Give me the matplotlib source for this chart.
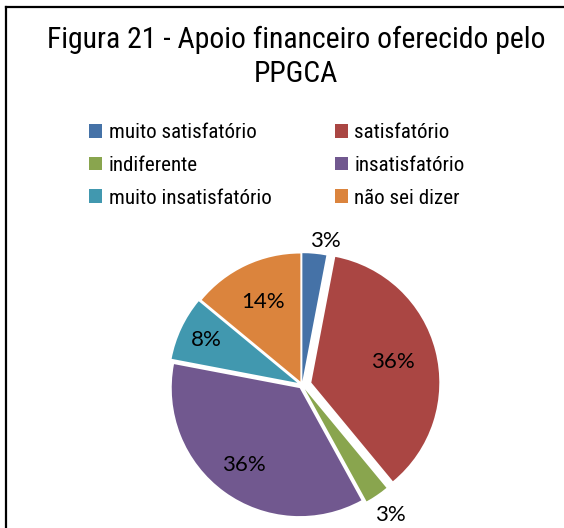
import matplotlib
matplotlib.use("Agg")
import matplotlib.pyplot as plt
import numpy as np
from matplotlib.lines import Line2D
from matplotlib import font_manager

categories = ["muito satisfatório", "satisfatório", "indiferente",
              "insatisfatório", "muito insatisfatório", "não sei dizer"]
values = [3, 36, 3, 36, 8, 14]
colors = ["#4572A7", "#AA4643", "#89A54E", "#71588F", "#4198AF", "#DB843D"]
title = "Figura 21 - Apoio financeiro oferecido pelo\nPPGCA"

W, H = 564, 528
fig = plt.figure(figsize=(W / 100, H / 100), dpi=100)

names = {f.name for f in font_manager.fontManager.ttflist}
narrow_font = "Liberation Sans"
for cand in ["Liberation Sans Narrow", "Arial Narrow", "Roboto Condensed"]:
    if cand in names:
        narrow_font = cand
        break
narrow = [narrow_font, "DejaVu Sans"]

renderer = fig.canvas.get_renderer()


def width_px(s, size):
    t = fig.text(0, 0, s, fontsize=size, family=narrow)
    w = t.get_window_extent(renderer).width
    t.remove()
    return w


# frame (top and left edges)
fig.add_artist(Line2D([6 / W, 1], [1 - 7 / H, 1 - 7 / H], transform=fig.transFigure,
                      color="black", lw=1.6))
fig.add_artist(Line2D([6 / W, 6 / W], [0, 1 - 7 / H], transform=fig.transFigure,
                      color="black", lw=1.6))

title_size = 20 * 498 / width_px(title.split("\n")[0], 20)
fig.text(296 / W, 1 - 57 / H, title, ha="center", va="center", fontsize=title_size,
         family=narrow, linespacing=1.3)

# pie axes: center (302,385) px, radius 128 px
R = 128
L = 1.4
S = R * L
cx, cy = 302, H - 385
ax = fig.add_axes([(cx - S) / W, (cy - S) / H, 2 * S / W, 2 * S / H])

explode = [0.03, 0.075, 0.04, 0.03, 0.04, 0.03]
label_r = [1.14, 0.73, 1.23, 0.77, 0.83, 0.72]
label_shift = [-4, 0, 0, 0, 0, 0]
wedges, texts, autotexts = ax.pie(values, colors=colors, startangle=90,
                                  counterclock=False, explode=explode,
                                  autopct="%1.0f%%", pctdistance=0.74,
                                  textprops=dict(fontsize=16, family=["Lato", "DejaVu Sans"],
                                                 color="black"))
ax.set_xlim(-L, L)
ax.set_ylim(-L, L)
ax.set_aspect("equal")
ax.axis("off")

for i, (w, t) in enumerate(zip(wedges, autotexts)):
    t.set_clip_on(False)
    ang = np.deg2rad((w.theta1 + w.theta2) / 2 + label_shift[i])
    r = label_r[i]
    t.set_position((r * np.cos(ang), r * np.sin(ang)))

leg_size = 15 * 163 / width_px("muito insatisfatório", 15)
order = [0, 2, 4, 1, 3, 5]
leg = fig.legend([wedges[i] for i in order], [categories[i] for i in order],
                 ncol=2, loc="upper left", bbox_to_anchor=(89 / W, 1 - 123 / H),
                 frameon=False, prop=dict(family=narrow, size=leg_size),
                 handlelength=0.64, handleheight=0.64, handletextpad=0.3,
                 labelspacing=0.66, columnspacing=3.0, borderpad=0, borderaxespad=0)

fig.savefig("out.png", dpi=100)
